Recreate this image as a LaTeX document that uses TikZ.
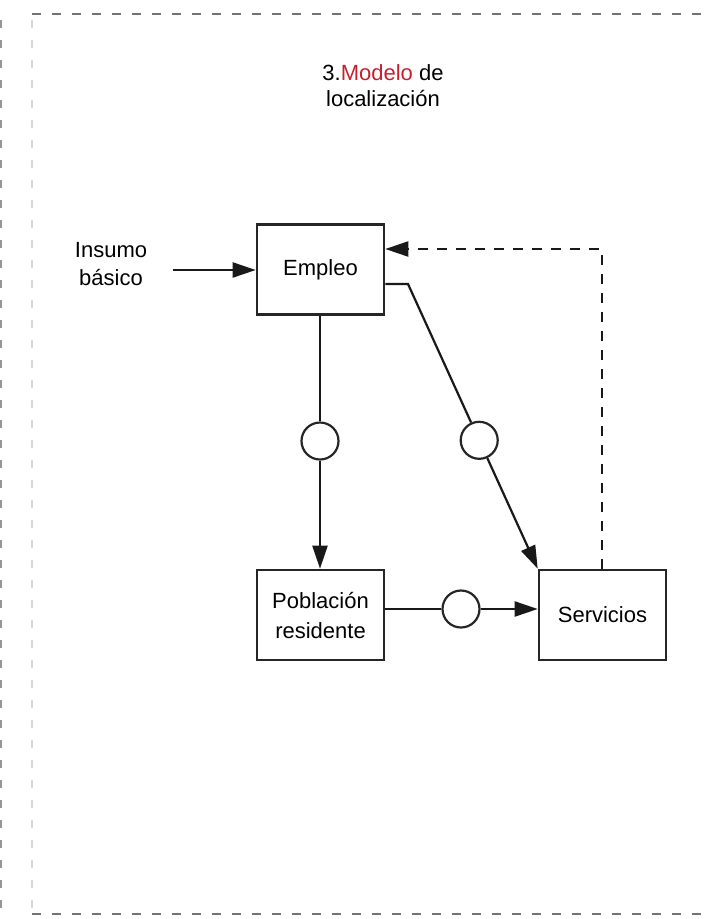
\documentclass[tikz,border=0pt]{standalone}
\usepackage{fontspec}
\setmainfont{Liberation Sans}
\usetikzlibrary{arrows.meta,calc}
\definecolor{modred}{RGB}{200,30,45}
\definecolor{frameouter}{RGB}{150,150,150}
\definecolor{frameinner}{RGB}{215,215,215}
\definecolor{frametop}{RGB}{115,115,115}
\tikzset{
  blockbox/.style={draw=black!85, line width=2.6pt, minimum width=127pt, minimum height=90pt,
    align=center, font=\fontsize{22}{30}\selectfont, inner sep=0pt},
  junction/.style={draw=black!85, circle, line width=2.2pt, minimum size=37pt, inner sep=0pt, fill=white},
  flow/.style={line width=2.2pt, draw=black!90},
  flowarrow/.style={flow, -{Triangle[length=23pt,width=15pt]}},
  plainlabel/.style={align=center, font=\fontsize{22}{28}\selectfont, inner sep=0pt},
  framedash/.style={line width=2pt, dash pattern=on 8pt off 12pt},
}
\begin{document}
\begin{tikzpicture}[x=1pt,y=-1pt]
\useasboundingbox (0,0) rectangle (706,919);

% dashed frame
\draw[framedash, frameouter] (1,20) -- (1,919);
\draw[framedash, frameinner] (32,20) -- (32,914);
\draw[line width=2.5pt, dash pattern=on 9pt off 11pt, frametop] (32,14) -- (706,14);
\draw[line width=2.5pt, dash pattern=on 9pt off 11pt, frametop] (32,914) -- (706,914);

% title
\node[plainlabel, font=\fontsize{22}{26}\selectfont] (title) at (383,86) {3.\textcolor{modred}{Modelo} de\\localización};

% blocks
\node[blockbox] (emp) at (320.5,269.5) {Empleo};
\node[blockbox] (pob) at (320.5,615) {Población\\residente};
\node[blockbox] (serv) at (602.5,615) {Servicios};

% input
\node[plainlabel] (ins) at (111,264) {Insumo\\básico};
\coordinate (insout) at (173,270);
\draw[flowarrow] (insout) -- (insout -| emp.west);

% employment to population
\node[junction] (j1) at (320,441) {};
\draw[flow] (j1 |- emp.south) -- (j1);
\draw[flowarrow] (j1) -- (j1 |- pob.north);

% employment to services
\coordinate (bend) at (408,284);
\node[junction] (j2) at ($(bend)!0.549!(serv.north west)$) {};
\draw[flow] (bend -| emp.east) -- (bend) -- (j2);
\draw[flowarrow] (j2) -- (serv.north west);

% population to services
\node[junction] (j3) at (461,609) {};
\draw[flow] (pob.east |- j3) -- (j3);
\draw[flowarrow] (j3) -- (j3 -| serv.west);

% feedback from services to employment
\coordinate (fb) at (602,249);
\draw[flowarrow, dash pattern=on 10pt off 9pt] (serv.north -| fb) -- (fb) -- (fb -| emp.east);
\end{tikzpicture}
\end{document}
